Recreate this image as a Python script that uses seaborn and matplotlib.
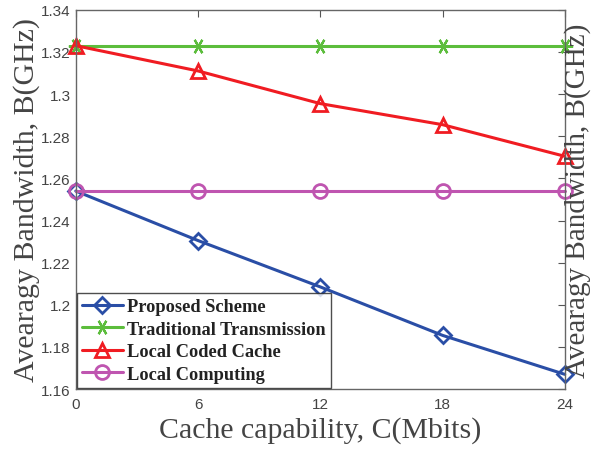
import matplotlib
matplotlib.use('Agg')
import matplotlib.pyplot as plt
import pandas as pd
import seaborn as sns

# Data
cache = [0, 6, 12, 18, 24]
proposed = [1.254, 1.2305, 1.2085, 1.1855, 1.167]
traditional = [1.323, 1.323, 1.323, 1.323, 1.323]
coded_cache = [1.323, 1.311, 1.2955, 1.2855, 1.2705]
local_computing = [1.254, 1.254, 1.254, 1.254, 1.254]

series_names = ['Proposed Scheme', 'Traditional Transmission',
                'Local Coded Cache', 'Local Computing']
series_values = [proposed, traditional, coded_cache, local_computing]
colors = ['#2a4ea6', '#5cbd3c', '#f01c22', '#bf55b0']
markers = ['D', (6, 2, 90), '^', 'o']
msizes = [8, 11, 10, 10]
medges = [2, 1.6, 2, 2]

sns.set_style('white')
plt.rcParams['font.family'] = ['Liberation Sans', 'DejaVu Sans']

df = pd.DataFrame({'cache': cache * 4,
                   'value': sum(series_values, []),
                   'series': [n for n in series_names for _ in cache]})

fig = plt.figure(figsize=(5.92, 4.52), dpi=100)
ax = fig.add_axes([0.128, 0.137, 0.826, 0.839])

for name, color, mk, ms, mew in zip(series_names, colors, markers, msizes, medges):
    sub = df[df['series'] == name]
    sns.lineplot(data=sub, x='cache', y='value', ax=ax, color=color,
                 linewidth=2.2, marker=mk, markersize=ms,
                 markerfacecolor='none', markeredgecolor=color,
                 markeredgewidth=mew, label=name, clip_on=False)

ax.set_xlim(0, 24)
ax.set_ylim(1.16, 1.34)
ax.set_xticks(cache)
ax.set_yticks([1.16, 1.18, 1.2, 1.22, 1.24, 1.26, 1.28, 1.3, 1.32, 1.34])
ax.set_yticklabels(['1.16', '1.18', '1.2', '1.22', '1.24', '1.26', '1.28',
                    '1.3', '1.32', '1.34'])
ax.tick_params(direction='in', length=5, width=0.8, colors='#555555',
               labelcolor='#444444', labelsize=11, top=True, right=True)
ax.tick_params(axis='x', pad=6)
for sp in ax.spines.values():
    sp.set_color('#666666')
    sp.set_linewidth(1)

serif = ['Liberation Serif', 'DejaVu Serif']
ax.set_xlabel('Cache capability, C(Mbits)', fontsize=21.5, family=serif,
              color='#444444', labelpad=3)
ax.set_ylabel('Avearagy Bandwidth, B(GHz)', fontsize=21.5, family=serif,
              color='#444444', labelpad=1)

# duplicated label on the right side, kept inside the figure
fig.text(0.999, 0.137 + 0.839 / 2, 'Avearagy Bandwidth, B(GHz)',
         rotation=90, ha='right', va='center', fontsize=21,
         family=serif, color='#444444')

leg = ax.legend(loc='lower left', bbox_to_anchor=(0.0, 0.0), frameon=True,
                fancybox=False, edgecolor='#222222', handlelength=2.2,
                handletextpad=0.25, borderpad=0.3, labelspacing=0.3,
                borderaxespad=0.05,
                prop={'family': serif, 'weight': 'bold', 'size': 13.2})
leg.get_frame().set_linewidth(1)
for t in leg.get_texts():
    t.set_color('#222222')

fig.savefig('out.png', dpi=100)
